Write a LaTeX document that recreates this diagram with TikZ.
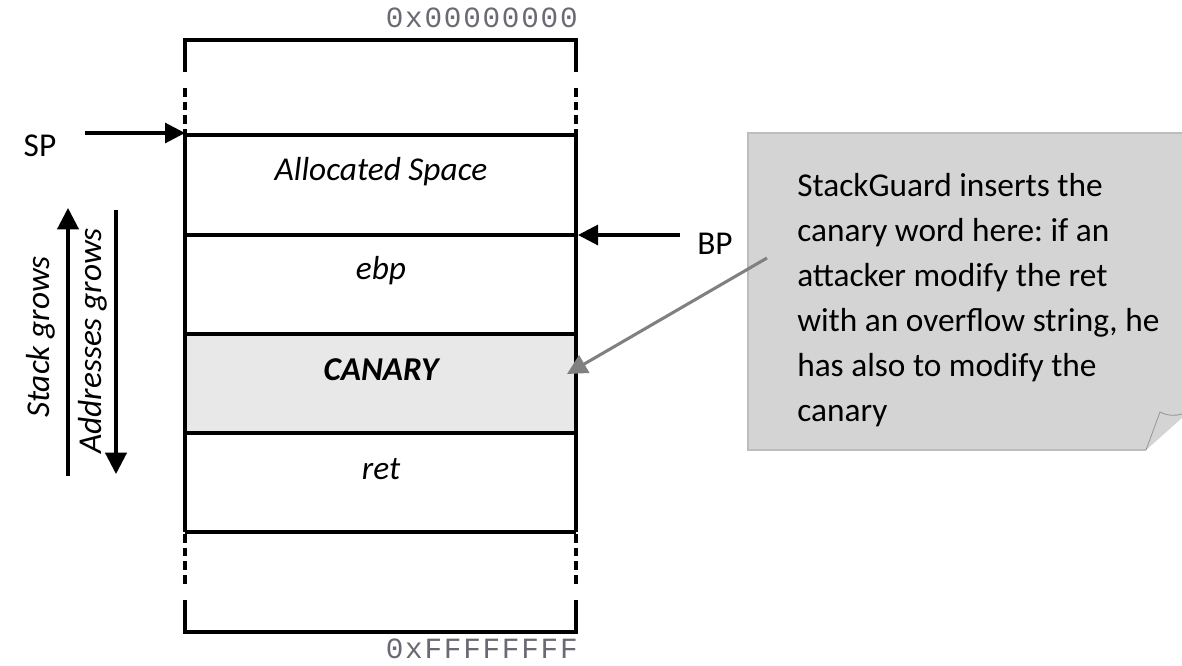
\documentclass[tikz,border=0pt]{standalone}
\usepackage{fontspec}
\setmainfont{Carlito}
\newfontfamily\addrfont[LetterSpace=6]{Liberation Mono}
\usetikzlibrary{arrows.meta}
\frenchspacing

\definecolor{canaryfill}{HTML}{E8E8E8}
\definecolor{notefill}{HTML}{D4D4D4}
\definecolor{noteedge}{HTML}{BDBDBD}
\definecolor{ptrgray}{HTML}{808080}
\definecolor{addrgray}{HTML}{6A6A74}

\begin{document}
\begin{tikzpicture}[x=0.75pt,y=-0.75pt,
  frame/.style={line width=2.3pt},
  gapline/.style={line width=3pt, dash pattern=on 6.5pt off 3.8pt},
  lbl/.style={font=\fontsize{25}{30}\selectfont\itshape, inner sep=0pt},
  plain/.style={font=\fontsize{25}{30}\selectfont, inner sep=0pt},
  addr/.style={font=\addrfont\fontsize{22}{26}\selectfont, text=addrgray, anchor=base east, inner sep=0pt},
  regptr/.style={line width=2.3pt, -{Triangle[length=15pt,width=15pt]}},
  growarrow/.style={line width=2.3pt, -{Triangle[length=16pt,width=16pt]}},
  pointer/.style={draw=ptrgray, line width=2.3pt, -{Triangle[length=15pt,width=15pt]}},
]
\useasboundingbox (0,0) rectangle (1182,665);

% canary slot background
\fill[canaryfill] (185,334) rectangle (576,433);

% stack frame outline
\draw[frame] (185,72) -- (185,40) -- (576,40) -- (576,72);
\draw[gapline] (185,88) -- (185,135);
\draw[gapline] (576,88) -- (576,135);
\draw[frame] (185,135) -- (185,532);
\draw[frame] (576,135) -- (576,532);
\foreach \yy in {135,235,334,433,532}
  \draw[frame] (185,\yy) -- (576,\yy);
\draw[gapline] (185,534) -- (185,585);
\draw[gapline] (576,534) -- (576,585);
\draw[frame] (185,600) -- (185,632) -- (576,632) -- (576,600);

% address limits
\node[addr] (lowaddr) at (578,27) {0x00000000};
\node[addr] (highaddr) at (578,658) {0xFFFFFFFF};

% slot labels
\node[lbl] (alloc) at (381,172) {Allocated Space};
\node[lbl] (ebp) at (381,271) {ebp};
\node[lbl, font=\fontsize{25}{30}\selectfont\itshape\bfseries] (canary) at (381,370) {CANARY};
\node[lbl] (ret) at (381,469) {ret};

% stack and base pointers
\coordinate (sptop) at (185,133);
\coordinate (bpmark) at (578,235);
\node[plain] (sp) at (40,146) {SP};
\node[plain] (bp) at (715,244) {BP};
\coordinate (sptail) at (85,133);
\coordinate (bptail) at (680,235);
\draw[regptr] (sptail) -- (sptop);
\draw[regptr] (bptail) -- (bpmark);

% growth directions
\coordinate (sgbot) at (68,476);
\coordinate (sgtop) at (68,208);
\coordinate (agtop) at (116,210);
\coordinate (agbot) at (116,474);
\draw[growarrow] (sgbot) -- (sgtop);
\draw[growarrow] (agtop) -- (agbot);
\node[lbl, rotate=90] (stackgrows) at (41,337) {Stack grows};
\node[lbl, rotate=90] (addrgrows) at (93,341) {Addresses grows};

% note with folded corner
\fill[notefill] (748,133) -- (1182,133) -- (1182,418) -- (1146,450) -- (748,450) -- cycle;
\draw[noteedge, line width=0.8pt] (1182,133) -- (748,133) -- (748,450) -- (1146,450);
\draw[notefill!70!black, line width=0.6pt, fill=notefill]
  (1146,450) -- (1160,412) .. controls (1168,416) and (1175,416) .. (1182,414);
\node[plain, anchor=north west, align=left,
      font=\fontsize{25}{33.75}\selectfont] (note) at (797,173)
  {StackGuard inserts the\\canary word here: if an\\attacker modify the ret\\with an overflow string, he\\has also to modify the\\canary};

% note pointer to the canary slot
\coordinate (notetail) at (767,258);
\coordinate (canaryedge) at (567,374);
\draw[pointer] (notetail) -- (canaryedge);
\end{tikzpicture}
\end{document}
